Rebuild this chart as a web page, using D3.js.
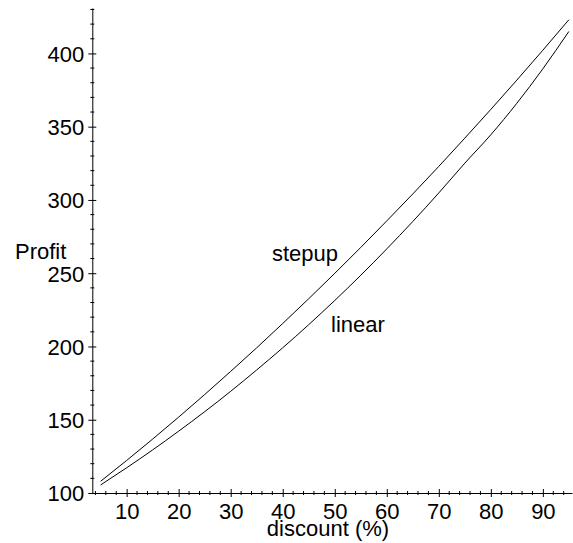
<!DOCTYPE html>
<meta charset="utf-8">
<style>
body { margin: 0; background: #fff; }
svg text { font-family: "Liberation Sans", Arial, Helvetica, sans-serif; font-size: 22px; fill: #000; }
</style>
<svg width="573" height="543"></svg>
<script src="https://cdn.jsdelivr.net/npm/d3@7"></script>
<script>

// discount (%) values where the curves were read
var discount = [5, 10, 15, 20, 25, 30, 35, 40, 45, 50, 55, 60, 65, 70, 75, 80, 85, 90, 95];

// profit
var stepup = [108, 122.2, 136.8, 151.8, 167.2, 183.0, 199.1, 215.7, 232.6, 249.9,
              267.6, 285.7, 304.1, 322.9, 342.2, 361.8, 381.8, 402.2, 423.0];
var linear = [105.5, 117.2, 129.4, 142.2, 155.5, 169.4, 184.0, 199.1, 214.9, 231.4,
              248.6, 266.6, 285.3, 304.8, 325.1, 344.5, 366, 389.5, 415];

var xMajor = [10, 20, 30, 40, 50, 60, 70, 80, 90];
var yMajor = [100, 150, 200, 250, 300, 350, 400];

var svg = d3.select("svg");

var x = d3.scaleLinear().domain([3.4, 95.6]).range([92.3, 572]);
var y = d3.scaleLinear().domain([100, 431]).range([493, 8]);

var xMinor = d3.range(4, 96, 2).filter(function(v) { return v % 10 != 0; });
var yMinor = d3.range(110, 431, 10).filter(function(v) { return v % 50 != 0; });

// x axis
var gx = svg.append("g").attr("transform", "translate(0," + y(100) + ")");
gx.call(d3.axisBottom(x).tickValues(xMajor).tickSizeOuter(0).tickSizeInner(4));
gx.attr("font-family", null).attr("font-size", null);
gx.select(".domain").attr("stroke", "#000");
gx.selectAll(".tick line").attr("y1", -4).attr("y2", 4).attr("stroke", "#000");
gx.selectAll(".tick text").attr("y", 26).attr("dy", 0);
gx.selectAll(".minor").data(xMinor).enter().append("line")
    .attr("x1", function(d) { return x(d); }).attr("x2", function(d) { return x(d); })
    .attr("y1", -2).attr("y2", 2).attr("stroke", "#000");

// y axis
var gy = svg.append("g").attr("transform", "translate(" + x(3.4) + ",0)");
gy.call(d3.axisLeft(y).tickValues(yMajor).tickSizeOuter(0).tickSizeInner(4));
gy.attr("font-family", null).attr("font-size", null);
gy.select(".domain").attr("stroke", "#000");
gy.selectAll(".tick line").attr("x1", -4).attr("x2", 4).attr("stroke", "#000");
gy.selectAll(".tick text").attr("x", -8).attr("dy", "0.36em");
gy.selectAll(".minor").data(yMinor).enter().append("line")
    .attr("y1", function(d) { return y(d); }).attr("y2", function(d) { return y(d); })
    .attr("x1", -2).attr("x2", 2).attr("stroke", "#000");

// curves
var line = d3.line()
    .x(function(d) { return x(d[0]); })
    .y(function(d) { return y(d[1]); })
    .curve(d3.curveMonotoneX);

[stepup, linear].forEach(function(s) {
  svg.append("path")
      .datum(discount.map(function(d, i) { return [d, s[i]]; }))
      .attr("fill", "none")
      .attr("stroke", "#000")
      .attr("stroke-width", 1)
      .attr("d", line);
});

// labels
svg.append("text").attr("x", 272).attr("y", 261).text("stepup");
svg.append("text").attr("x", 331).attr("y", 332).text("linear");
svg.append("text").attr("x", 15).attr("y", 259).text("Profit");
svg.append("text").attr("x", 328).attr("y", 536).attr("text-anchor", "middle").text("discount (%)");

</script>
